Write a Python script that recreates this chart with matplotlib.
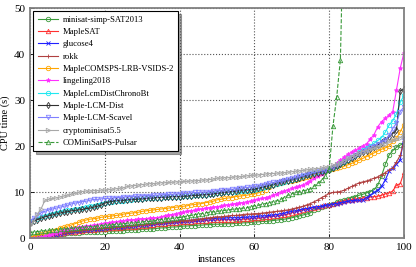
import numpy as np
import matplotlib
matplotlib.use('Agg')
import matplotlib.pyplot as plt

plt.rcParams['font.family'] = 'serif'
plt.rcParams['font.serif'] = ['Liberation Serif', 'DejaVu Serif']

# sorted CPU times per solver (cactus plot), one value per instance
minisat = [0.2, 0.3, 0.4, 0.5, 0.6, 0.7, 0.7, 0.8, 0.9, 0.9, 1.0,
           1.0, 1.1, 1.1, 1.2, 1.2, 1.2, 1.3, 1.3, 1.4, 1.4,
           1.5, 1.5, 1.5, 1.6, 1.6, 1.7, 1.7, 1.8, 1.8, 1.9,
           1.9, 2.0, 2.0, 2.1, 2.2, 2.2, 2.3, 2.4, 2.4, 2.5,
           2.6, 2.6, 2.7, 2.7, 2.8, 2.8, 2.9, 2.9, 3.0, 3.0,
           3.0, 3.1, 3.1, 3.1, 3.2, 3.2, 3.3, 3.3, 3.4, 3.5,
           3.5, 3.6, 3.6, 3.7, 3.8, 3.9, 4.0, 4.1, 4.2, 4.4,
           4.6, 4.8, 5.0, 5.2, 5.5, 6.1, 6.4, 6.7, 7.0, 7.2,
           7.5, 7.8, 8.0, 8.2, 8.5, 8.8, 9.0, 9.3, 9.5, 9.8,
           10.1, 10.5, 11.5, 13.5, 16.0, 18.0, 19.0, 19.7, 20.2, 20.5]
maplesat = [0.0, 0.1, 0.1, 0.2, 0.3, 0.4, 0.6, 0.7, 0.9, 1.0, 1.2,
            1.3, 1.4, 1.5, 1.6, 1.7, 1.7, 1.8, 1.9, 1.9, 2.0,
            2.1, 2.1, 2.2, 2.2, 2.3, 2.4, 2.4, 2.5, 2.6, 2.7,
            2.7, 2.8, 2.9, 3.0, 3.0, 3.1, 3.2, 3.2, 3.3, 3.4,
            3.4, 3.5, 3.5, 3.6, 3.7, 3.7, 3.8, 3.9, 3.9, 3.9,
            3.9, 4.0, 4.0, 4.0, 4.0, 4.0, 4.1, 4.1, 4.2, 4.3,
            4.3, 4.4, 4.5, 4.6, 4.7, 4.8, 4.9, 5.0, 5.2, 5.5,
            5.7, 5.9, 6.1, 6.3, 6.5, 6.6, 6.8, 6.9, 7.1, 7.2,
            7.4, 7.6, 7.8, 8.0, 8.2, 8.3, 8.4, 8.5, 8.7, 8.8,
            8.9, 9.0, 9.1, 9.3, 9.6, 9.8, 10.2, 11.5, 11.8, 14.3]
glucose = [0.0, 0.0, 0.1, 0.1, 0.2, 0.3, 0.5, 0.7, 0.9, 1.1, 1.3,
           1.4, 1.5, 1.6, 1.7, 1.8, 1.8, 1.9, 2.0, 2.0, 2.1,
           2.2, 2.3, 2.3, 2.4, 2.5, 2.6, 2.7, 2.7, 2.8, 2.9,
           2.9, 3.0, 3.1, 3.2, 3.2, 3.3, 3.4, 3.4, 3.5, 3.6,
           3.6, 3.7, 3.8, 3.9, 3.9, 4.0, 4.1, 4.2, 4.2, 4.3,
           4.3, 4.3, 4.4, 4.4, 4.4, 4.4, 4.5, 4.5, 4.6, 4.6,
           4.7, 4.8, 4.8, 4.9, 5.0, 5.1, 5.3, 5.4, 5.6, 5.8,
           5.9, 6.1, 6.3, 6.4, 6.6, 6.7, 6.8, 6.9, 7.1, 7.2,
           7.4, 7.5, 7.7, 7.8, 8.0, 8.1, 8.2, 8.2, 8.3, 8.8,
           9.3, 9.9, 10.4, 11.2, 12.6, 14.5, 15.3, 16.0, 17.0, 22.0]
rokk = [0.0, 0.1, 0.2, 0.3, 0.4, 0.5, 0.7, 0.8, 1.0, 1.1, 1.3,
        1.4, 1.5, 1.6, 1.7, 1.8, 1.9, 2.0, 2.0, 2.1, 2.2,
        2.2, 2.3, 2.4, 2.4, 2.5, 2.6, 2.7, 2.8, 2.9, 2.9,
        3.0, 3.1, 3.2, 3.3, 3.3, 3.4, 3.5, 3.5, 3.6, 3.7,
        3.8, 3.8, 3.9, 4.0, 4.1, 4.2, 4.3, 4.4, 4.5, 4.6,
        4.6, 4.7, 4.8, 4.9, 4.9, 5.0, 5.1, 5.2, 5.2, 5.3,
        5.3, 5.4, 5.5, 5.6, 5.7, 5.8, 5.9, 6.0, 6.1, 6.3,
        6.5, 6.7, 6.9, 7.2, 7.5, 7.9, 8.3, 8.8, 9.2, 9.7,
        9.9, 10.0, 10.1, 10.4, 10.8, 11.2, 11.6, 12.0, 12.2, 12.4,
        12.7, 13.0, 13.3, 13.8, 14.2, 14.8, 15.3, 16.5, 18.0, 21.0]
comsps = [0.1, 0.3, 0.6, 0.8, 1.0, 1.3, 1.5, 1.8, 2.1, 2.3, 2.6,
          2.8, 3.1, 3.4, 3.7, 3.9, 4.1, 4.2, 4.3, 4.5, 4.6,
          4.7, 4.8, 4.9, 5.0, 5.2, 5.3, 5.4, 5.5, 5.6, 5.8,
          5.9, 6.0, 6.1, 6.2, 6.3, 6.4, 6.5, 6.6, 6.7, 6.8,
          6.9, 7.0, 7.2, 7.3, 7.4, 7.5, 7.7, 7.8, 8.0, 8.3,
          8.4, 8.6, 8.7, 8.8, 9.0, 9.1, 9.2, 9.3, 9.5, 9.6,
          9.8, 10.1, 10.5, 11.0, 11.5, 11.7, 11.9, 12.1, 12.3, 12.5,
          12.7, 12.9, 13.1, 13.3, 13.5, 13.8, 14.0, 14.3, 14.5, 14.8,
          15.0, 15.2, 15.4, 15.6, 15.9, 16.2, 16.6, 16.9, 17.3, 17.7,
          18.1, 18.5, 18.9, 19.3, 19.6, 19.9, 21.0, 21.7, 23.1, 24.6]
lingeling = [0.0, 0.0, 0.1, 0.2, 0.4, 0.6, 0.8, 1.1, 1.4, 1.7, 1.9,
             2.1, 2.2, 2.4, 2.5, 2.6, 2.7, 2.8, 2.9, 3.1, 3.2,
             3.3, 3.4, 3.5, 3.6, 3.7, 3.9, 3.9, 4.0, 4.1, 4.2,
             4.2, 4.3, 4.4, 4.4, 4.6, 4.8, 5.0, 5.1, 5.3, 5.5,
             5.6, 5.8, 5.9, 6.0, 6.2, 6.3, 6.5, 6.6, 6.7, 6.8,
             6.9, 7.1, 7.2, 7.3, 7.5, 7.6, 7.7, 7.9, 8.0, 8.2,
             8.4, 8.6, 8.8, 9.0, 9.3, 9.6, 9.9, 10.2, 10.5, 10.8,
             11.0, 11.3, 11.5, 12.0, 12.5, 13.0, 13.5, 14.0, 14.5, 15.0,
             15.6, 16.2, 16.9, 17.6, 18.2, 18.7, 19.1, 19.5, 20.0, 20.5,
             21.5, 22.5, 24.2, 25.3, 26.0, 26.7, 27.5, 32.2, 36.9, 40.3]
chronobt = [3.5, 3.8, 4.2, 4.5, 4.8, 5.0, 5.3, 5.5, 5.7, 5.8, 6.0,
            6.1, 6.3, 6.4, 6.6, 6.7, 6.9, 7.0, 7.2, 7.5, 7.7,
            7.8, 7.9, 8.0, 8.1, 8.1, 8.2, 8.3, 8.4, 8.4, 8.5,
            8.6, 8.6, 8.7, 8.8, 8.8, 8.9, 8.9, 9.0, 9.0, 9.0,
            9.1, 9.1, 9.2, 9.3, 9.3, 9.4, 9.4, 9.5, 9.6, 9.7,
            9.8, 9.9, 10.0, 10.0, 10.1, 10.2, 10.2, 10.3, 10.4, 10.5,
            10.7, 10.9, 11.1, 11.3, 11.5, 11.8, 12.0, 12.2, 12.4, 12.6,
            12.8, 13.1, 13.4, 13.7, 13.9, 14.1, 14.3, 14.5, 14.6, 14.8,
            15.2, 15.6, 16.1, 16.5, 17.0, 17.6, 18.1, 18.6, 19.1, 19.6,
            20.1, 20.6, 21.2, 21.8, 23.0, 24.5, 25.5, 27.0, 29.5, 31.0]
lcmdist = [3.3, 3.6, 4.0, 4.3, 4.6, 4.8, 5.0, 5.2, 5.4, 5.6, 5.7,
           5.9, 6.0, 6.1, 6.2, 6.4, 6.5, 6.7, 6.9, 7.1, 7.6,
           7.8, 8.0, 8.1, 8.2, 8.2, 8.3, 8.4, 8.4, 8.5, 8.5,
           8.6, 8.7, 8.7, 8.8, 8.8, 8.9, 8.9, 9.0, 9.0, 9.0,
           9.1, 9.1, 9.2, 9.3, 9.3, 9.4, 9.4, 9.5, 9.6, 9.7,
           9.8, 9.9, 10.0, 10.1, 10.2, 10.4, 10.4, 10.5, 10.5, 10.6,
           10.8, 11.0, 11.2, 11.4, 11.6, 11.9, 12.1, 12.3, 12.5, 12.7,
           12.9, 13.1, 13.3, 13.6, 13.8, 14.0, 14.2, 14.4, 14.6, 14.8,
           15.2, 15.6, 16.0, 16.5, 17.0, 17.4, 17.9, 18.3, 18.6, 19.0,
           19.3, 19.7, 20.2, 20.8, 21.4, 22.0, 22.7, 23.5, 32.0, 32.3]
scavel = [3.8, 4.3, 4.9, 5.5, 5.8, 6.1, 6.3, 6.5, 6.7, 6.9, 7.1,
          7.4, 7.6, 7.7, 7.9, 8.0, 8.2, 8.4, 8.4, 8.5, 8.6,
          8.6, 8.7, 8.8, 8.8, 8.9, 9.0, 9.0, 9.1, 9.1, 9.2,
          9.2, 9.2, 9.3, 9.3, 9.4, 9.4, 9.5, 9.5, 9.6, 9.6,
          9.7, 9.7, 9.8, 9.9, 9.9, 10.0, 10.0, 10.1, 10.2, 10.3,
          10.4, 10.4, 10.5, 10.6, 10.7, 10.8, 10.9, 11.0, 11.1, 11.2,
          11.3, 11.5, 11.7, 11.9, 12.1, 12.2, 12.4, 12.6, 12.8, 13.0,
          13.2, 13.4, 13.6, 13.9, 14.1, 14.3, 14.5, 14.7, 14.8, 15.0,
          15.4, 15.9, 16.3, 16.8, 17.3, 17.7, 18.1, 18.5, 18.9, 19.3,
          19.7, 20.1, 20.5, 20.9, 21.3, 22.3, 23.8, 25.0, 27.5, 28.5]
crypto = [2.8, 3.5, 5.2, 6.4, 8.2, 8.4, 8.6, 8.7, 8.9, 9.1, 9.3,
          9.5, 9.7, 9.9, 10.1, 10.2, 10.2, 10.3, 10.3, 10.4, 10.4,
          10.5, 10.6, 10.7, 10.8, 10.9, 11.2, 11.3, 11.4, 11.5, 11.6,
          11.7, 11.8, 11.8, 11.9, 12.0, 12.0, 12.1, 12.1, 12.2, 12.2,
          12.3, 12.3, 12.4, 12.4, 12.5, 12.6, 12.6, 12.7, 12.8, 13.0,
          13.0, 13.1, 13.1, 13.2, 13.3, 13.3, 13.4, 13.5, 13.6, 13.7,
          13.7, 13.8, 13.9, 14.0, 14.0, 14.1, 14.1, 14.2, 14.3, 14.4,
          14.5, 14.6, 14.7, 14.8, 14.9, 15.0, 15.1, 15.2, 15.4, 15.5,
          15.8, 16.1, 16.4, 16.8, 17.3, 17.7, 18.1, 18.5, 18.8, 19.0,
          19.3, 19.5, 19.8, 20.2, 20.5, 21.0, 21.2, 21.5, 21.8, 22.5]
pulsar = [1.2, 1.3, 1.4, 1.5, 1.6, 1.7, 1.7, 1.8, 1.9, 2.0, 2.0,
          2.1, 2.2, 2.2, 2.3, 2.4, 2.5, 2.5, 2.6, 2.7, 2.8,
          2.8, 2.9, 3.0, 3.0, 3.1, 3.2, 3.3, 3.3, 3.4, 3.5,
          3.6, 3.6, 3.7, 3.9, 4.0, 4.1, 4.2, 4.3, 4.4, 4.5,
          4.6, 4.8, 4.9, 5.1, 5.2, 5.3, 5.5, 5.6, 5.7, 5.8,
          5.9, 6.0, 6.1, 6.2, 6.3, 6.4, 6.5, 6.6, 6.8, 7.0,
          7.1, 7.3, 7.5, 7.7, 7.9, 8.1, 8.4, 8.8, 9.3, 9.6,
          9.9, 10.1, 10.3, 10.4, 10.7, 11.3, 11.9, 12.6, 13.5, 15.0,
          24.3, 30.6, 38.8, 75.0]

series = [
    ('minisat-simp-SAT2013', minisat, '#3a9a3a', 'o', '-'),
    ('MapleSAT', maplesat, '#ff3030', '^', '-'),
    ('glucose4', glucose, '#2020ff', 'x', '-'),
    ('rokk', rokk, '#b04040', '+', '-'),
    ('MapleCOMSPS-LRB-VSIDS-2', comsps, '#ffa500', 'o', '-'),
    ('lingeling2018', lingeling, '#ff30ff', '*', '-'),
    ('MapleLcmDistChronoBt', chronobt, '#20e8f0', 'o', '-'),
    ('Maple-LCM-Dist', lcmdist, '#303030', 'd', '-'),
    ('Maple-LCM-Scavel', scavel, '#8080ff', 'v', '-'),
    ('cryptominisat5.5', crypto, '#a8a8a8', '>', '-'),
    ('COMiniSatPS-Pulsar', pulsar, '#3a9a3a', '^', '--'),
]

fig = plt.figure(figsize=(4.16, 2.67), dpi=100)
ax = fig.add_axes([0.0721, 0.1086, 0.899, 0.8614])

for name, vals, col, mk, ls in series:
    x = np.arange(len(vals))
    fill = col if mk == '*' else 'none'
    ax.plot(x, vals, ls, color=col, marker=mk, markersize=3.2,
            markerfacecolor=fill, markeredgewidth=0.6, linewidth=0.8,
            label=name)

ax.set_xlim(0, 100)
ax.set_ylim(0, 50)
ax.set_xticks([0, 20, 40, 60, 80, 100])
ax.set_yticks([0, 10, 20, 30, 40, 50])
ax.tick_params(direction='in', labelsize=8, length=3, width=0.6)
ax.grid(True, linestyle=':', color='#555555', linewidth=0.8)
for s in ax.spines.values():
    s.set_color('#808080')
    s.set_linewidth(1.3)

ax.set_xlabel('instances', fontsize=7.5, labelpad=2)
ax.set_ylabel('CPU time (s)', fontsize=7.5, labelpad=3)

leg = ax.legend(loc='upper left', fontsize=6.2, fancybox=False, shadow=True,
                framealpha=1, edgecolor='black', labelspacing=0.5,
                handlelength=2.4, handletextpad=0.5, borderaxespad=0.4,
                borderpad=0.5)
leg.get_frame().set_linewidth(0.8)

fig.savefig('out.png', dpi=100)
